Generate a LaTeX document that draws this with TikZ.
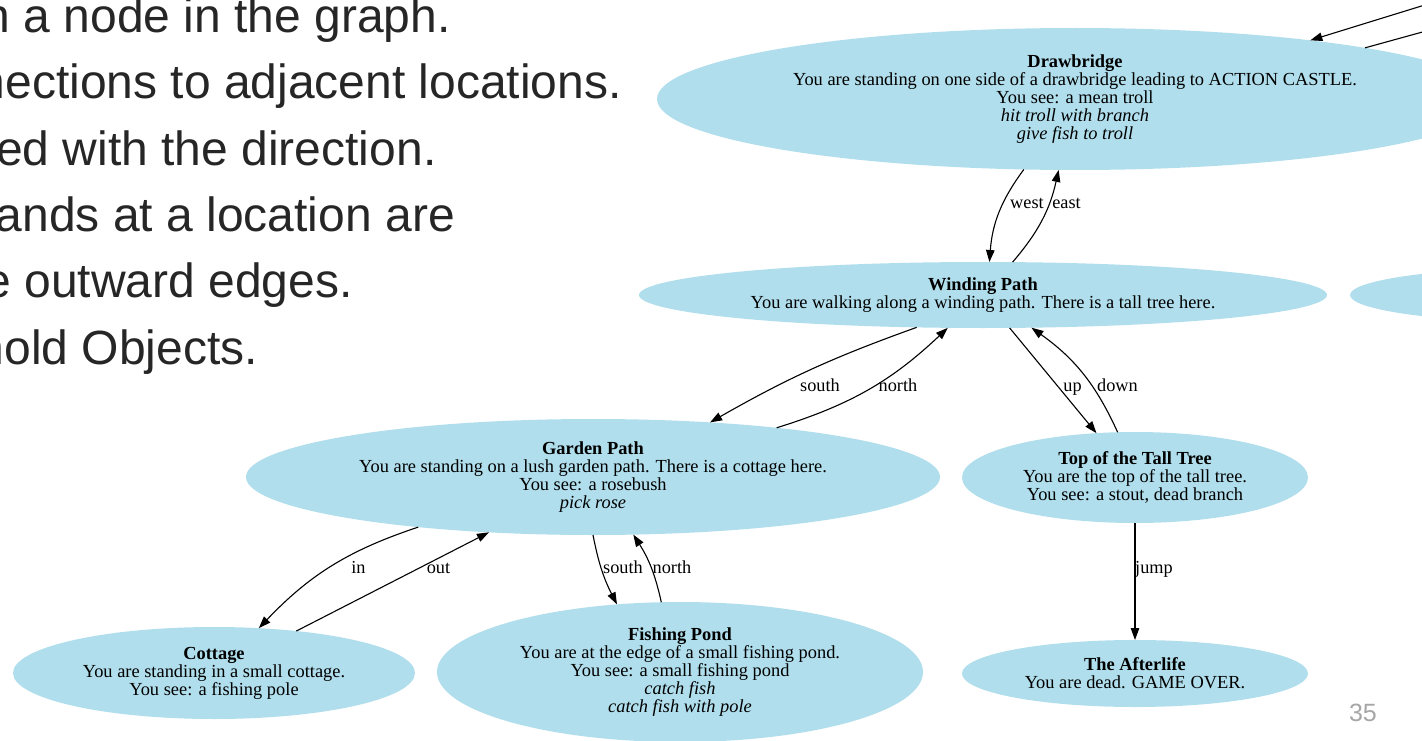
\documentclass[tikz,border=0pt]{standalone}
\usepackage{fontspec}
\setmainfont{Liberation Serif}
\newfontfamily\slidefont{Liberation Sans}
\usetikzlibrary{arrows.meta,shapes.geometric}
\definecolor{roomfill}{RGB}{176,222,236}
\definecolor{slideink}{RGB}{38,38,38}
\definecolor{pagenum}{RGB}{166,166,166}
\begin{document}
\begin{tikzpicture}[x=1pt,y=1pt,
  room/.style={ellipse, fill=roomfill, draw=none, inner sep=0pt, outer sep=0pt,
    align=center, font=\fontsize{18.4}{18}\selectfont},
  link/.style={line width=1.1pt, -{Triangle[length=12pt,width=8.5pt]}},
  lbl/.style={font=\fontsize{18.3}{18}\selectfont, inner sep=0pt, anchor=base},
  bullet/.style={font=\slidefont\fontsize{48}{48}\selectfont, text=slideink,
    anchor=base east, inner sep=0pt}
]
\useasboundingbox (0,0) rectangle (1422,-741);

% slide text (left part of the bullet list)
\node[bullet] (b1) at (451,-33)  {n a node in the graph.};
\node[bullet] (b2) at (622,-99)  {nections to adjacent locations.};
\node[bullet, anchor=base west] (b3) at (-4,-165) {ed with the direction.};
\node[bullet] (b4) at (455,-231) {ands at a location are};
\node[bullet] (b5) at (353,-297) {e outward edges.};
\node[bullet] (b6) at (258,-364) {hold Objects.};

% locations
\node[room, minimum width=836pt, minimum height=142pt] (drawb) at (1075,-99)
  {\textbf{Drawbridge}\\You are standing on one side of a drawbridge leading to ACTION CASTLE.\\You see: a mean troll\\\textit{hit troll with branch}\\\textit{give fish to troll}};
\node[room, minimum width=688pt, minimum height=66pt] (wind) at (983,-295)
  {\textbf{Winding Path}\\You are walking along a winding path. There is a tall tree here.};
\node[room, minimum width=420pt, minimum height=56pt] (eastroom) at (1560,-295) {};
\node[room, minimum width=694pt, minimum height=116pt] (garden) at (593,-477)
  {\textbf{Garden Path}\\You are standing on a lush garden path. There is a cottage here.\\You see: a rosebush\\\textit{pick rose}};
\node[room, minimum width=346pt, minimum height=91pt] (tree) at (1135,-477.5)
  {\textbf{Top of the Tall Tree}\\You are the top of the tall tree.\\You see: a stout, dead branch};
\node[room, minimum width=346pt, minimum height=67pt] (after) at (1135,-673.5)
  {\textbf{The Afterlife}\\You are dead. GAME OVER.};
\node[room, minimum width=402pt, minimum height=92pt] (cottage) at (214,-673)
  {\textbf{Cottage}\\You are standing in a small cottage.\\You see: a fishing pole};
\node[room, minimum width=486pt, minimum height=140pt] (pond) at (680,-672)
  {\textbf{Fishing Pond}\\You are at the edge of a small fishing pond.\\You see: a small fishing pond\\\textit{catch fish}\\\textit{catch fish with pole}};

% connections leaving the visible area
\coordinate (farin) at (1450,2.8);
\coordinate (farout) at (1450,-24.4);
\draw[link] (farin) -- (drawb.14.9);
\draw[link] (drawb.10.6) -- (farout);

% connections
\draw[link] (drawb.-126) to[bend right=16] (wind.79.4);
\draw[link] (wind.48.7) to[bend right=14] (drawb.-103.5);
\draw[link] (wind.-154.1) to[bend right=5] (garden.25);
\draw[link] (garden.15.4) to[bend right=13] (wind.-137.5);
\draw[link] (wind.-51.1) -- (tree.131.2);
\draw[link] (tree.111) to[bend right=15] (wind.-34.8);
\draw[link] (tree.south) -- (after.north);
\draw[link] (garden.-164) to[bend right=14] (cottage.45.3);
\draw[link] (cottage.27.4) -- (garden.-152.5);
\draw[link] (garden.south) to[bend right=8] (pond.133);
\draw[link] (pond.105.5) to[bend right=10] (garden.-55.7);

% connection labels
\node[lbl] (lwest) at (1027,-208) {west};
\node[lbl] (least) at (1066.5,-208) {east};
\node[lbl] (lsouth1) at (820,-391.5) {south};
\node[lbl] (lnorth1) at (898,-391.5) {north};
\node[lbl] (lup) at (1072.5,-391.5) {up};
\node[lbl] (ldown) at (1117.5,-391.5) {down};
\node[lbl] (ljump) at (1154,-573) {jump};
\node[lbl] (lin) at (358.5,-573) {in};
\node[lbl] (lout) at (438.5,-573) {out};
\node[lbl] (lsouth2) at (623,-573) {south};
\node[lbl] (lnorth2) at (672,-573) {north};

% page number
\node[anchor=base east, inner sep=0pt, font=\slidefont\fontsize{25}{25}\selectfont,
  text=pagenum] (pageno) at (1377,-721) {35};
\end{tikzpicture}
\end{document}
